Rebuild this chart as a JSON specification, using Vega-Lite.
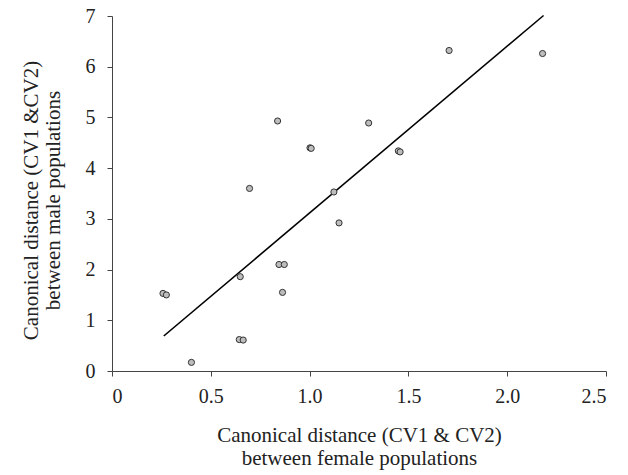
{
  "$schema": "https://vega.github.io/schema/vega-lite/v6.json",
  "width": 494,
  "height": 355,
  "autosize": "none",
  "padding": {"left": 112, "top": 16, "right": 22, "bottom": 104},
  "background": "white",
  "config": {
    "view": {"stroke": null},
    "font": "Liberation Serif",
    "axis": {
      "grid": false,
      "domainColor": "#444",
      "tickColor": "#444",
      "tickSize": 5,
      "labelFont": "Liberation Serif",
      "labelFontSize": 20,
      "labelColor": "#222",
      "titleFont": "Liberation Serif",
      "titleFontSize": 21,
      "titleFontWeight": "normal",
      "titleColor": "#222"
    }
  },
  "datasets": {
    "pts": [
      {"female": 0.258, "male": 1.53},
      {"female": 0.275, "male": 1.50},
      {"female": 0.402, "male": 0.17},
      {"female": 0.644, "male": 0.62},
      {"female": 0.664, "male": 0.61},
      {"female": 0.649, "male": 1.86},
      {"female": 0.696, "male": 3.60},
      {"female": 0.838, "male": 4.93},
      {"female": 0.845, "male": 2.10},
      {"female": 0.872, "male": 2.10},
      {"female": 0.863, "male": 1.55},
      {"female": 1.002, "male": 4.40},
      {"female": 1.008, "male": 4.39},
      {"female": 1.123, "male": 3.53},
      {"female": 1.149, "male": 2.92},
      {"female": 1.299, "male": 4.89},
      {"female": 1.449, "male": 4.34},
      {"female": 1.458, "male": 4.32},
      {"female": 1.706, "male": 6.32},
      {"female": 2.179, "male": 6.26}
    ],
    "fit": [
      {"female": 0.262, "male": 0.69},
      {"female": 2.184, "male": 7.01}
    ]
  },
  "layer": [
    {
      "data": {"name": "fit"},
      "mark": {"type": "line", "color": "#000", "strokeWidth": 1.6},
      "encoding": {
        "x": {"field": "female", "type": "quantitative",
          "scale": {"domain": [0, 2.5], "nice": false, "zero": false},
          "axis": {
            "values": [0, 0.5, 1, 1.5, 2, 2.5],
            "labelExpr": "datum.value == 0 ? '0' : format(datum.value, '.1f')",
            "labelPadding": 10,
            "titlePadding": 18,
            "titleLineHeight": 23,
            "title": ["Canonical distance (CV1 & CV2)", "between female populations"]
          }
        },
        "y": {"field": "male", "type": "quantitative",
          "scale": {"domain": [0, 7], "nice": false},
          "axis": {
            "values": [0, 1, 2, 3, 4, 5, 6, 7],
            "labelPadding": 12,
            "titlePadding": 22,
            "titleLineHeight": 22,
            "titleY": 184,
            "title": ["Canonical distance (CV1 &CV2)", "between male populations"]
          }
        }
      }
    },
    {
      "data": {"name": "pts"},
      "mark": {"type": "point", "filled": true, "fill": "#bdbdbd", "stroke": "#333", "strokeWidth": 1, "opacity": 1, "size": 38},
      "encoding": {
        "x": {"field": "female", "type": "quantitative"},
        "y": {"field": "male", "type": "quantitative"}
      }
    }
  ]
}
